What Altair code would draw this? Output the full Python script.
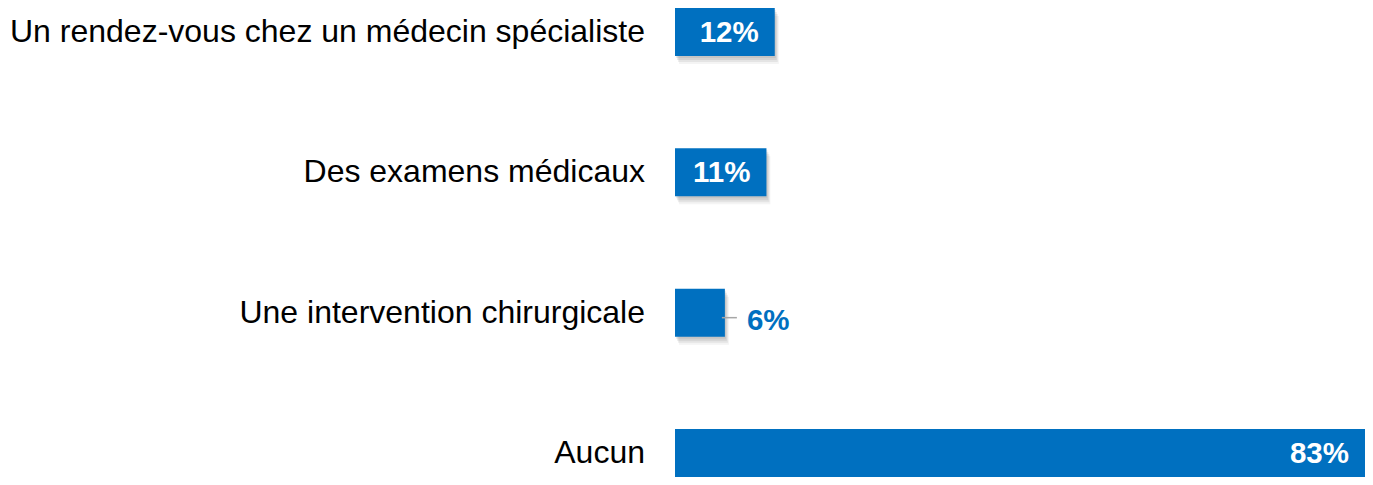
import altair as alt
import pandas as pd

categories = [
    "Un rendez-vous chez un médecin spécialiste",
    "Des examens médicaux",
    "Une intervention chirurgicale",
    "Aucun",
]
values = [12, 11, 6, 83]
labels = ["12%", "11%", "6%", "83%"]

df = pd.DataFrame({"cat": categories, "value": values, "label": labels})
BLUE = "#0070C0"
FONT = "Liberation Sans"

y = alt.Y("cat:N", sort=categories, axis=None,
          scale=alt.Scale(paddingInner=0.658, paddingOuter=0))
x = alt.X("value:Q", axis=None, scale=alt.Scale(domain=[0, 83], range=[667, 1357]))

base = alt.Chart(df)

shadow_layers = []
for dx, dy, op in [(1, 2, 0.14), (2, 4, 0.14), (3, 6, 0.12), (4, 8, 0.08)]:
    shadow_layers.append(
        base.mark_bar(color="#707070", opacity=op, xOffset=dx, x2Offset=dx,
                      yOffset=dy, y2Offset=dy)
        .encode(x=x, x2=alt.datum(0), y=y)
    )

bars = base.mark_bar(color=BLUE).encode(x=x, x2=alt.datum(0), y=y)

cat_text = base.mark_text(align="right", baseline="middle", fontSize=32,
                          font=FONT, color="#000000").encode(
    y=y, text="cat:N", x=alt.value(637))

inside = base.transform_filter("datum.value >= 10").mark_text(
    align="right", baseline="middle", dx=-16, dy=1, fontSize=29.5, font=FONT,
    fontWeight="bold", color="#FFFFFF").encode(x=x, y=y, text="label:N")

outside = base.transform_filter("datum.value < 10").mark_text(
    align="left", baseline="middle", dx=22, dy=8, fontSize=29.5, font=FONT,
    fontWeight="bold", color=BLUE).encode(x=x, y=y, text="label:N")

leader = base.transform_filter("datum.value < 10").mark_rule(
    color="#A6A6A6", strokeWidth=1.5, xOffset=-3, x2Offset=12, yOffset=5,
    y2Offset=5).encode(x=x, x2="value:Q", y=y)

chart = alt.layer(*shadow_layers, bars, cat_text, inside, outside, leader).properties(
    width=1357, height=469, autosize="none", padding=0
).configure_view(stroke=None)

chart.save("out.html", embed_options={"renderer": "svg", "actions": False})
